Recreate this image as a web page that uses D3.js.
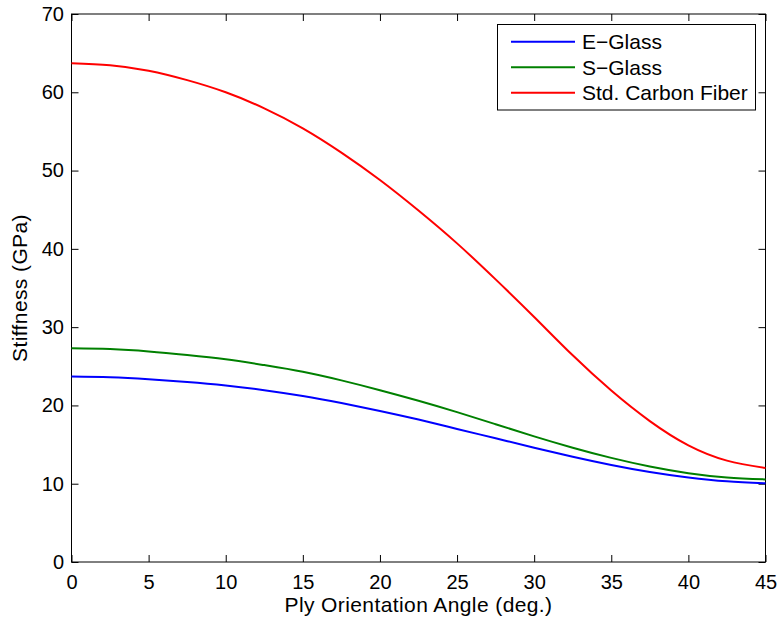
<!DOCTYPE html>
<meta charset="utf-8">
<style>
body { margin: 0; background: #fff; }
text { font-family: Arial, "Liberation Sans", sans-serif; fill: #000; }
.label { font-size: 21px; letter-spacing: 0.4px; }
.legend text { font-size: 21px; }
</style>
<svg width="779" height="624"></svg>
<script src="https://d3js.org/d3.v7.min.js"></script>
<script>

var angles = [0, 2.5, 5, 7.5, 10, 12.5, 15, 17.5, 20, 22.5, 25, 27.5, 30, 32.5, 35, 37.5, 40, 42.5, 45];
var eGlass = [23.7, 23.6, 23.35, 23.0, 22.55, 21.95, 21.2, 20.3, 19.3, 18.2, 17.0, 15.8, 14.6, 13.45, 12.4, 11.5, 10.8, 10.3, 10.05];
var sGlass = [27.3, 27.2, 26.9, 26.45, 25.9, 25.15, 24.3, 23.2, 21.95, 20.6, 19.15, 17.6, 16.05, 14.6, 13.3, 12.2, 11.35, 10.8, 10.55];
var carbon = [63.7, 63.45, 62.75, 61.55, 60.0, 57.95, 55.4, 52.3, 48.8, 44.9, 40.7, 36.1, 31.3, 26.4, 21.9, 18.0, 14.9, 12.95, 12.0];
var seriesNames = ["E\u2212Glass", "S\u2212Glass", "Std. Carbon Fiber"];
var seriesColors = ["#0000ff", "#008000", "#ff0000"];
var xTicks = [0, 5, 10, 15, 20, 25, 30, 35, 40, 45];
var yTicks = [0, 10, 20, 30, 40, 50, 60, 70];

var svg = d3.select("svg"),
    plotL = 71.5, plotR = 765.5, plotT = 14, plotB = 562;

var x = d3.scaleLinear().domain([0, 45]).range([plotL, plotR]);
var y = d3.scaleLinear().domain([0, 70]).range([plotB, plotT]);

var series = [eGlass, sGlass, carbon].map(function(vals, i) {
  return { name: seriesNames[i], color: seriesColors[i],
           points: vals.map(function(v, j) { return [angles[j], v]; }) };
});

// box
svg.append("rect")
    .attr("x", plotL).attr("y", plotT)
    .attr("width", plotR - plotL).attr("height", plotB - plotT)
    .attr("fill", "none").attr("stroke", "#000").attr("stroke-width", 1);

var tl = 7;
function styleAxis(g) {
  g.select(".domain").remove();
  g.selectAll(".tick line").attr("stroke", "#000");
  g.selectAll(".tick text")
      .attr("font-size", 20)
      .attr("font-family", "Arial, 'Liberation Sans', sans-serif")
      .attr("fill", "#000");
}

svg.append("g").attr("transform", "translate(0," + plotB + ")")
    .call(d3.axisBottom(x).tickValues(xTicks).tickSizeInner(-tl).tickSizeOuter(0).tickPadding(13))
    .call(styleAxis);
svg.append("g").attr("transform", "translate(0," + plotT + ")")
    .call(d3.axisTop(x).tickValues(xTicks).tickSizeInner(-tl).tickSizeOuter(0).tickFormat(""))
    .call(styleAxis);
svg.append("g").attr("transform", "translate(" + plotL + ",0)")
    .call(d3.axisLeft(y).tickValues(yTicks).tickSizeInner(-tl).tickSizeOuter(0).tickPadding(7.5))
    .call(styleAxis);
svg.append("g").attr("transform", "translate(" + plotR + ",0)")
    .call(d3.axisRight(y).tickValues(yTicks).tickSizeInner(-tl).tickSizeOuter(0).tickFormat(""))
    .call(styleAxis);

var line = d3.line()
    .x(function(d) { return x(d[0]); })
    .y(function(d) { return y(d[1]); })
    .curve(d3.curveNatural);

svg.selectAll(".curve")
  .data(series)
  .enter().append("path")
    .attr("class", "curve")
    .attr("fill", "none")
    .attr("stroke", function(d) { return d.color; })
    .attr("stroke-width", 2)
    .attr("d", function(d) { return line(d.points); });

// axis labels
svg.append("text").attr("class", "label")
    .attr("x", (plotL + plotR) / 2).attr("y", 612)
    .attr("text-anchor", "middle")
    .text("Ply Orientation Angle (deg.)");
svg.append("text").attr("class", "label")
    .attr("transform", "translate(27," + (plotT + plotB) / 2 + ") rotate(-90)")
    .attr("text-anchor", "middle")
    .text("Stiffness (GPa)");

// legend
var legend = svg.append("g").attr("class", "legend");
legend.append("rect")
    .attr("x", 497.5).attr("y", 24.5).attr("width", 258).attr("height", 85.5)
    .attr("fill", "#fff").attr("stroke", "#000").attr("stroke-width", 1);
var item = legend.selectAll(".item")
  .data(series)
  .enter().append("g")
    .attr("transform", function(d, i) { return "translate(0," + (41.7 + i * 25.5) + ")"; });
item.append("line")
    .attr("x1", 511).attr("x2", 575).attr("y1", 0).attr("y2", 0)
    .attr("stroke", function(d) { return d.color; })
    .attr("stroke-width", 2);
item.append("text")
    .attr("x", 582).attr("y", 7.5)
    .text(function(d) { return d.name; });

</script>
